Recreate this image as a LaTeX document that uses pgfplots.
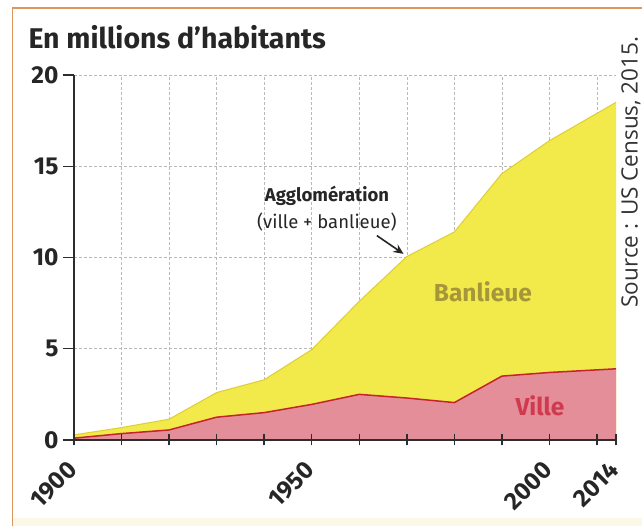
\documentclass[border=0pt]{standalone}
\usepackage{pgfplots}
\pgfplotsset{compat=1.18}
\usetikzlibrary{arrows.meta}
\usepackage{fontspec}
\setmainfont{Fira Sans}
\newfontfamily\srcfont{Open Sans}
\definecolor{yfill}{RGB}{242,233,74}
\definecolor{yline}{RGB}{222,206,50}
\definecolor{pfill}{RGB}{228,142,153}
\definecolor{rline}{RGB}{196,36,44}
\definecolor{banc}{RGB}{166,150,58}
\definecolor{villec}{RGB}{208,58,78}
\definecolor{axisc}{RGB}{45,45,45}
\definecolor{framec}{RGB}{222,150,95}
\definecolor{creamc}{RGB}{252,248,232}
\pgfplotsset{
  myaxis/.style={
    at={(74pt,86pt)}, anchor=south west,
    scale only axis, width=542pt, height=365pt,
    xmin=1900, xmax=2014, ymin=0, ymax=20,
    clip=false,
    axis lines=left,
    axis line style={-, line width=1.4pt, color=axisc},
    xtick={1900,1910,...,2010},
    extra x ticks={2014},
    ytick={0,5,10,15,20},
    xtick align=center,
    ytick align=outside,
    major tick length=11pt,
    x tick style={line width=1.4pt, color=axisc},
    y tick style={line width=1.4pt, color=axisc},
    /pgf/number format/assume math mode=true,
    tick label style={font=\bfseries\fontsize{24.5}{27}\selectfont, text=black!85},
    x tick label style={xshift=1pt, yshift=-18pt, rotate=45, anchor=east},
    y tick label style={xshift=-1pt},
  }
}
\begin{document}
\begin{tikzpicture}
\useasboundingbox (0pt,0pt) rectangle (642pt,526pt);
\fill[white] (0pt,0pt) rectangle (642pt,526pt);
\fill[creamc] (12pt,0pt) rectangle (642pt,8pt);
\draw[framec, line width=1.6pt] (12.5pt,0pt) -- (12.5pt,518pt) -- (642pt,518pt);
\node[anchor=base west, font=\bfseries\fontsize{28.5}{32}\selectfont, text=black!85] at (25pt,477pt) {En millions d’habitants};
\node[rotate=90, font=\srcfont\fontsize{22.5}{25}\selectfont, text=black!80] at (631pt,354pt) {Source : US Census, 2015.};
\begin{axis}[
  myaxis,
  xticklabels={1900,,,,,1950,,,,,2000,},
  extra x tick labels={2014},
  extra x tick style={grid=none},
  grid=major,
  major grid style={densely dashed, gray!55, line width=0.6pt},
]
\addplot[fill=yfill, draw=none] coordinates {
(1900,0.28) (1910,0.68) (1920,1.14) (1930,2.6) (1940,3.3) (1950,4.95) (1960,7.6) (1970,10.05) (1980,11.4) (1990,14.6) (2000,16.4) (2014,18.5)
} \closedcycle;
\addplot[yline, line width=1pt] coordinates {
(1900,0.28) (1910,0.68) (1920,1.14) (1930,2.6) (1940,3.3) (1950,4.95) (1960,7.6) (1970,10.05) (1980,11.4) (1990,14.6) (2000,16.4) (2014,18.5)
};
\addplot[fill=pfill, draw=none] coordinates {
(1900,0.1) (1910,0.35) (1920,0.55) (1930,1.25) (1940,1.5) (1950,1.95) (1960,2.5) (1970,2.3) (1980,2.05) (1990,3.5) (2000,3.7) (2014,3.9)
} \closedcycle;
\addplot[rline, line width=1.5pt] coordinates {
(1900,0.1) (1910,0.35) (1920,0.55) (1930,1.25) (1940,1.5) (1950,1.95) (1960,2.5) (1970,2.3) (1980,2.05) (1990,3.5) (2000,3.7) (2014,3.9)
};
\node[font=\bfseries\fontsize{18.5}{21}\selectfont, text=black!85] at (axis cs:1953.2,13.4) {Agglomération};
\node[font=\fontsize{18.5}{21}\selectfont, text=black!85] at (axis cs:1953.2,11.95) {(ville + banlieue)};
\draw[-{Stealth[length=10pt,width=9pt]}, line width=1.6pt, black!85] (axis cs:1963.7,11.2) -- (axis cs:1969.3,10.2);
\node[font=\bfseries\fontsize{24.5}{27}\selectfont, text=banc] at (axis cs:1986,8.1) {Banlieue};
\node[font=\bfseries\fontsize{24.5}{27}\selectfont, text=villec] at (axis cs:1998,1.9) {Ville};
\end{axis}
\begin{axis}[
  myaxis,
  xticklabels={},
  extra x tick labels={},
  yticklabels={},
]
\end{axis}
\end{tikzpicture}
\end{document}
